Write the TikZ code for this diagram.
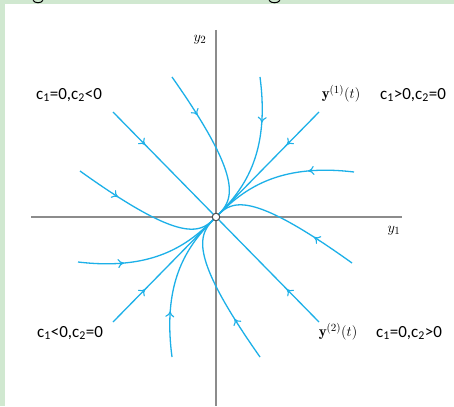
\documentclass[tikz,border=0pt]{standalone}
\usepackage{fontspec}
\newfontfamily\lbl{Carlito}
\usetikzlibrary{arrows.meta,decorations.markings}
\definecolor{bg}{RGB}{208,232,208}
\definecolor{trajc}{RGB}{28,176,232}
\definecolor{axisgray}{RGB}{140,140,140}
\begin{document}
\begin{tikzpicture}[x=1pt,y=-1pt,
  trajline/.style={draw=trajc,line width=1.3pt,line join=round},
  flow/.style={postaction={decorate},decoration={markings,
     mark=at position 46pt with {\arrow[trajc,line width=1.1pt]{Computer Modern Rightarrow[length=6pt,width=9pt]}}}},
  axisline/.style={draw=axisgray,line width=1.3pt},
  clabel/.style={font=\fontsize{17}{20}\selectfont\lbl,inner sep=0pt},
  mlabel/.style={font=\fontsize{15}{18}\selectfont,inner sep=0pt},
  dot/.style={circle,draw=black!70,fill=white,line width=1pt,inner sep=0pt,minimum size=7.5pt}]
\useasboundingbox (0,0) rectangle (454,406);
\fill[bg] (0,0) rectangle (454,406);
\fill[white] (5,4) rectangle (454,406);
% cut-off descenders in the top band
\draw[black,line width=1pt] (33,0.3) .. controls (35,3.6) and (41,3.6) .. (43,0.3);
\draw[black,line width=1pt] (269,0.3) .. controls (271,3.6) and (278,3.6) .. (280,0.3);
% axes
\coordinate (xa) at (31,217);
\coordinate (xb) at (402,217);
\coordinate (ya) at (216,30);
\coordinate (yb) at (216,406);
\draw[axisline] (xa) -- (xb);
\draw[axisline] (ya) -- (yb);
\node[mlabel] (ly2) at (200,40) {$y_2$};
\node[mlabel] (ly1) at (394,231) {$y_1$};
\coordinate (O) at (216,217);
% straight trajectories
\coordinate (nw) at (113,112);
\coordinate (se) at (319,322);
\coordinate (ne) at (319,112);
\coordinate (sw) at (113,322);
\draw[trajline,flow] (nw) -- (O);
\draw[trajline,flow] (se) -- (O);
\draw[trajline,flow] (ne) -- (O);
\draw[trajline,flow] (sw) -- (O);
% curved trajectories
\draw[trajline,flow] plot[domain=1:0.02,samples=50] ({216+48*\x-92*\x*\x*\x},{217-48*\x-92*\x*\x*\x}) -- (O);
\draw[trajline,flow] plot[domain=1:0.02,samples=50] ({216-48*\x+92*\x*\x*\x},{217+48*\x+92*\x*\x*\x}) -- (O);
\draw[trajline,flow] plot[domain=1:0.02,samples=50] ({216-45*\x-91*\x*\x*\x},{217+45*\x-91*\x*\x*\x}) -- (O);
\draw[trajline,flow] plot[domain=1:0.02,samples=50] ({216+45*\x+91*\x*\x*\x},{217-45*\x+91*\x*\x*\x}) -- (O);
\draw[trajline,flow] plot[domain=1:0.02,samples=50] ({216+91.5*\x+46.5*\x*\x*sqrt(\x)},{217-91.5*\x+46.5*\x*\x*sqrt(\x)}) -- (O);
\draw[trajline,flow] plot[domain=1:0.02,samples=50] ({216-91.5*\x-46.5*\x*\x*sqrt(\x)},{217+91.5*\x-46.5*\x*\x*sqrt(\x)}) -- (O);
\draw[trajline,flow] plot[domain=1:0.02,samples=50] ({216+92*\x-48*\x*\x*sqrt(\x)},{217-92*\x-48*\x*\x*sqrt(\x)}) -- (O);
\draw[trajline,flow] plot[domain=1:0.02,samples=50] ({216-92*\x+48*\x*\x*sqrt(\x)},{217+92*\x+48*\x*\x*sqrt(\x)}) -- (O);
\node[dot] (o) at (O) {};
% labels
\node[clabel] (q2) at (69,95) {c\textsubscript{1}=0,c\textsubscript{2}<0};
\node[clabel] (q1) at (413,95) {c\textsubscript{1}>0,c\textsubscript{2}=0};
\node[clabel] (q3) at (70,333) {c\textsubscript{1}<0,c\textsubscript{2}=0};
\node[clabel] (q4) at (409,333) {c\textsubscript{1}=0,c\textsubscript{2}>0};
\node[mlabel] (v1) at (341,94) {$\mathbf{y}^{(1)}(t)$};
\node[mlabel] (v2) at (338,332) {$\mathbf{y}^{(2)}(t)$};
\end{tikzpicture}
\end{document}
